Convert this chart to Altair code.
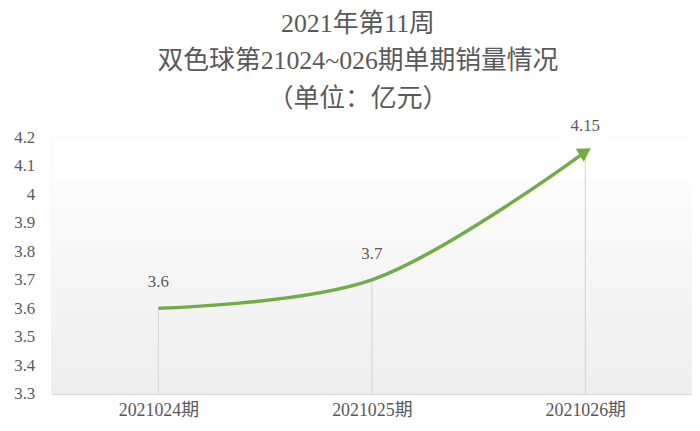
import altair as alt
import pandas as pd

periods = ["2021024期", "2021025期", "2021026期"]
sales = [3.6, 3.7, 4.15]
labels = ["3.6", "3.7", "4.15"]
y_ticks = [3.3, 3.4, 3.5, 3.6, 3.7, 3.8, 3.9, 4.0, 4.1, 4.2]
title_lines = ["2021年第11周", "双色球第21024~026期单期销量情况", "（单位：亿元）"]

df = pd.DataFrame({"period": periods, "sales": sales, "label": labels})

NUM_FONT = "Liberation Serif, Noto Sans CJK SC"
GRAY = "#595959"
GREEN = "#70AD47"

x_enc = alt.X("period:N", sort=periods,
              scale=alt.Scale(type="point", padding=0.5),
              axis=alt.Axis(title=None, labelAngle=0, ticks=False, domain=True,
                            domainColor="#d9d9d9", domainWidth=1.5,
                            labelFont=NUM_FONT, labelFontSize=18,
                            labelColor=GRAY, labelPadding=8))
y_scale = alt.Scale(domain=[3.3, 4.2], nice=False, zero=False)
y_enc = alt.Y("sales:Q", scale=y_scale,
              axis=alt.Axis(title=None, values=y_ticks, format="~g", grid=False,
                            domain=False, ticks=False, labelFont=NUM_FONT,
                            labelFontSize=17, labelColor=GRAY, labelPadding=17))

base = alt.Chart(df)

grad = alt.LinearGradient(gradient="linear", x1=0, y1=0, x2=0, y2=1,
                          stops=[alt.GradientStop(offset=0, color="#ffffff"),
                                 alt.GradientStop(offset=0.17, color="#ffffff"),
                                 alt.GradientStop(offset=0.175, color="#fcfcfc"),
                                 alt.GradientStop(offset=1, color="#eeeeee")])
bg = alt.Chart(pd.DataFrame({"bg": [0]})).mark_rect(color=grad).encode(
    x=alt.value(0), x2=alt.value("width"), y=alt.value(0), y2=alt.value("height"))

rules = base.mark_rule(color="#d9d9d9", strokeWidth=1.2).encode(
    x=x_enc, y=y_enc, y2=alt.datum(3.3))

line = base.mark_line(color=GREEN, strokeWidth=3.5, interpolate="catmull-rom").encode(
    x=x_enc, y=y_enc)

arrow = base.transform_filter(alt.datum.period == periods[-1]).mark_point(
    shape="triangle-right", filled=True, size=230, angle=328, color=GREEN,
    opacity=1).encode(x=x_enc, y=y_enc)

texts = base.mark_text(dy=-26, font=NUM_FONT, fontSize=17, color=GRAY).encode(
    x=x_enc, y=y_enc, text="label:N")

chart = alt.layer(bg, rules, line, arrow, texts).properties(
    width=645, height=258,
    autosize=alt.AutoSizeParams(type="none"),
    padding={"left": 44, "top": 129, "right": 0, "bottom": 28},
    title=alt.TitleParams(text=title_lines, fontSize=26, font=NUM_FONT,
                          color=GRAY, fontWeight="normal", lineHeight=38,
                          anchor="middle", offset=5, dx=-14),
).configure_view(strokeWidth=0).configure(background="#ffffff")

chart.save("out.html", embed_options={"renderer": "svg", "actions": False})
